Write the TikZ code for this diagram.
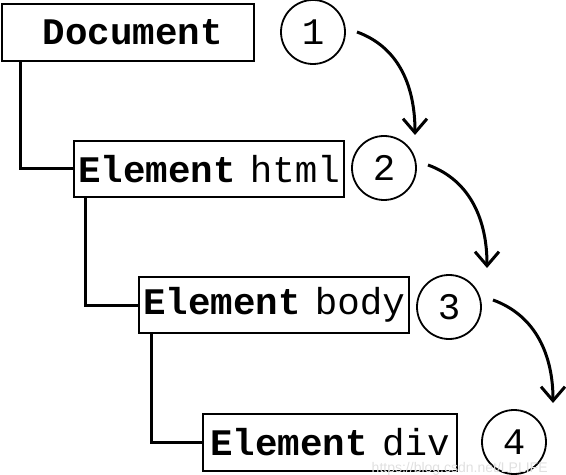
\documentclass[tikz,border=0pt]{standalone}
\usepackage{fontspec}
\setmainfont{Liberation Sans}
\setmonofont{Liberation Mono}
\usetikzlibrary{arrows.meta}
\begin{document}
\begin{tikzpicture}[x=0.5pt,y=-0.5pt,
  every node/.style={font=\ttfamily\fontsize{18.75}{20}\selectfont},
  box/.style={draw,line width=1pt,inner sep=0pt,minimum height=28pt},
  num/.style={draw,circle,line width=0.9pt,inner sep=0pt,minimum size=32pt},
  tree/.style={line width=1.5pt},
  flow/.style={line width=1.5pt,-{Straight Barb[length=7pt,width=12pt,line width=1.5pt]}}]
\useasboundingbox (0,0) rectangle (566,475);
\node[box,minimum width=126pt,minimum height=28.5pt] (doc) at (128,32.5) {\hspace{5pt}\textbf{Document}};
\node[box,minimum width=135pt] (html) at (209,169) {\textbf{Element}\hspace{7pt}html};
\node[box,minimum width=135pt] (body) at (274,305) {\textbf{Element}\hspace{7pt}body};
\node[box,minimum width=127pt,minimum height=28.5pt] (div) at (330,442.5) {\textbf{Element}\hspace{7pt}div};
\node[num] (c1) at (313,32) {1};
\node[num] (c2) at (384,168) {2};
\node[num] (c3) at (449,307) {3};
\node[num] (c4) at (514,442) {4};
\draw[tree] ([xshift=9.5pt]doc.south west) |- (html.west);
\draw[tree] ([xshift=6pt]html.south west) |- (body.west);
\draw[tree] ([xshift=6.5pt]body.south west) |- (div.west);
\coordinate (a1s) at ([xshift=22pt]c1.center);
\coordinate (a1e) at ([xshift=15.5pt,yshift=16.5pt]c2.center);
\coordinate (a2s) at ([xshift=22pt,yshift=1.5pt]c2.center);
\coordinate (a2e) at ([xshift=19pt,yshift=19.5pt]c3.center);
\coordinate (a3s) at ([xshift=22pt,yshift=3.5pt]c3.center);
\coordinate (a3e) at ([xshift=19.5pt,yshift=19.5pt]c4.center);
\draw[flow] (a1s) to[out=-20,in=90] (a1e);
\draw[flow] (a2s) to[out=-20,in=90] (a2e);
\draw[flow] (a3s) to[out=-20,in=90] (a3e);
\node[font=\fontsize{7}{8}\selectfont,text=black!12,anchor=east,inner sep=0pt] (wm) at (548,469) {https://blog.csdn.net/LPLIFE};
\end{tikzpicture}
\end{document}
